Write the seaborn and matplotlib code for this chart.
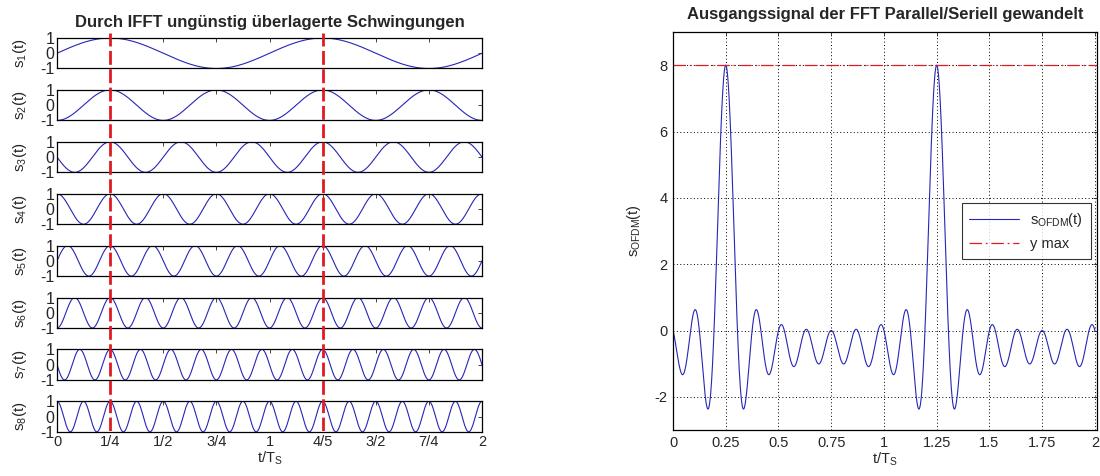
import numpy as np
import pandas as pd
import matplotlib
matplotlib.use("Agg")
import matplotlib.pyplot as plt
import seaborn as sns

# Subcarrier parameters: harmonic index, amplitude, and the common peak instant
harmonics = [1, 2, 3, 4, 5, 6, 7, 8]
amplitudes = [1, 1, 1, 1, 1, 1, 1, 1]
peak_time = 0.25
period_end = 2.0

left_xticks = [0, 0.25, 0.5, 0.75, 1.0, 1.25, 1.5, 1.75, 2.0]
left_xticklabels = ["0", "1/4", "1/2", "3/4", "1", "4/5", "3/2", "7/4", "2"]
marker_times = [0.25, 1.25]
right_xticks = [0, 0.25, 0.5, 0.75, 1.0, 1.25, 1.5, 1.75, 2.0]
right_xticklabels = ["0", "0.25", "0.5", "0.75", "1", "1.25", "1.5", "1.75", "2"]
right_yticks = [-2, 0, 2, 4, 6, 8]

sns.set_style("white")
plt.rcParams["font.family"] = ["Liberation Sans", "DejaVu Sans"]
plt.rcParams["mathtext.fontset"] = "custom"
plt.rcParams["mathtext.rm"] = "Liberation Sans"
plt.rcParams["mathtext.it"] = "Liberation Sans"
plt.rcParams["xtick.direction"] = "in"
plt.rcParams["ytick.direction"] = "in"

W, H = 1100, 476
fig = plt.figure(figsize=(W / 100, H / 100), dpi=100)

t = np.linspace(0, period_end, 2001)
frame = pd.DataFrame({"t": t})
for k, a in zip(harmonics, amplitudes):
    frame[f"s{k}"] = a * np.cos(2 * np.pi * k * (t - peak_time))
frame["ofdm"] = frame[[f"s{k}" for k in harmonics]].sum(axis=1)

line_color = "#2626b8"
red = "#e01a22"
fs = 10.5


def px_axes(x0, y0, x1, y1, **kw):
    return fig.add_axes([x0 / W, 1 - y1 / H, (x1 - x0) / W, (y1 - y0) / H], **kw)


# Left column: one strip per subcarrier
left_x0, left_x1 = 57, 482
top0, pitch, strip_h = 38, 51.9, 30.5
left_axes = []
for i, k in enumerate(harmonics):
    y0 = top0 + pitch * i
    ax = px_axes(left_x0, y0, left_x1, y0 + strip_h)
    sns.lineplot(data=frame, x="t", y=f"s{k}", ax=ax, color=line_color, linewidth=0.8)
    ax.set_xlim(0, period_end)
    ax.set_ylim(-1, 1)
    ax.set_yticks([-1, 0, 1])
    ax.set_yticklabels(["-1", "0", "1"], fontsize=11.5)
    ax.set_xticks(left_xticks)
    ax.tick_params(axis="both", length=3, width=0.6, top=True, right=True, pad=2)
    if i == len(harmonics) - 1:
        ax.set_xticklabels(left_xticklabels, fontsize=fs)
        ax.set_xlabel(r"$\mathregular{t/T_S}$", fontsize=fs, labelpad=1)
    else:
        ax.set_xticklabels([])
        ax.set_xlabel("")
    ax.set_ylabel(rf"$\mathregular{{s_{k}(t)}}$", fontsize=11, labelpad=8)
    for s in ax.spines.values():
        s.set_linewidth(0.9)
        s.set_color("black")
    left_axes.append(ax)

left_axes[0].set_title("Durch IFFT ungünstig überlagerte Schwingungen",
                       fontsize=12, fontweight="bold", pad=8)

# Overlay for the vertical markers spanning all strips
ov = px_axes(left_x0, 33, left_x1, 431)
ov.set_xlim(0, period_end)
ov.set_ylim(0, 1)
ov.patch.set_alpha(0)
ov.axis("off")
for mt in marker_times:
    ov.axvline(mt, color=red, linestyle=(0, (5, 1.6)), linewidth=2)

# Right panel: sum of all subcarriers
axr = px_axes(673, 32, 1097, 430)
sns.lineplot(data=frame, x="t", y="ofdm", ax=axr, color=line_color, linewidth=0.8,
             label=r"$\mathregular{s_{OFDM}(t)}$")
ymax = frame["ofdm"].max()
axr.axhline(ymax, color=red, linestyle=(0, (10, 3, 1.5, 3)), linewidth=0.9,
            label="y max")
axr.set_xlim(0, 2.01)
axr.set_ylim(-3, 9)
axr.set_xticks(right_xticks)
axr.set_xticklabels(right_xticklabels, fontsize=fs)
axr.set_yticks(right_yticks)
axr.set_yticklabels([str(v) for v in right_yticks], fontsize=fs)
axr.tick_params(axis="both", length=3, width=0.6, top=True, right=True, pad=4)
axr.grid(True, color="black", linestyle=(0, (1, 2.5)), linewidth=0.7)
axr.set_xlabel(r"$\mathregular{t/T_S}$", fontsize=fs, labelpad=1)
axr.set_ylabel(r"$\mathregular{s_{OFDM}(t)}$", fontsize=fs, labelpad=8)
axr.set_title("Ausgangssignal der FFT Parallel/Seriell gewandelt",
              fontsize=12, fontweight="bold", pad=9)
for s in axr.spines.values():
    s.set_linewidth(0.9)
    s.set_color("black")
leg = axr.legend(loc="center right", bbox_to_anchor=(0.995, 0.5), fontsize=fs,
                 frameon=True, fancybox=False, edgecolor="black", handlelength=3.4,
                 borderpad=0.5, labelspacing=0.6, borderaxespad=0.3)
leg.get_frame().set_linewidth(0.8)

fig.savefig("out.png", dpi=100)
